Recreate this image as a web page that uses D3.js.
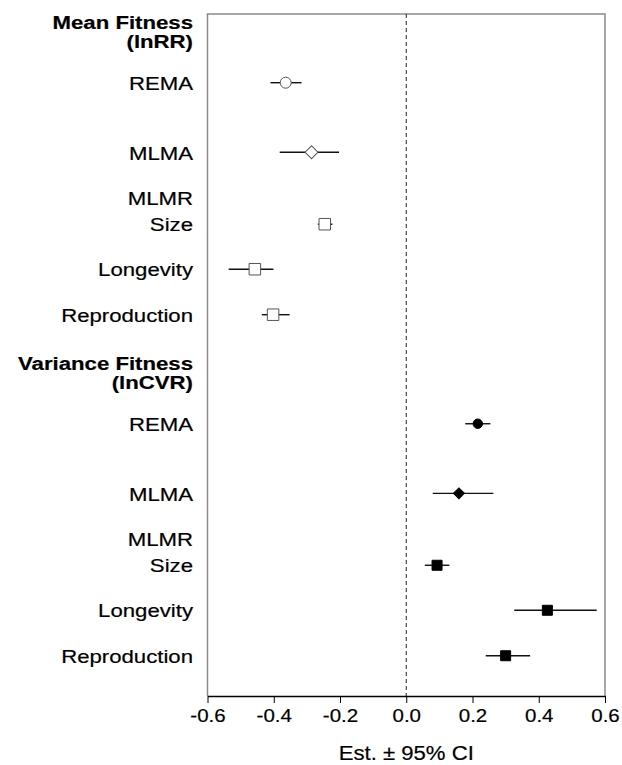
<!DOCTYPE html>
<html>
<head>
    <meta charset="utf-8">
    <title>Forest plot</title>
    <script src="https://cdn.jsdelivr.net/npm/d3@7"></script>
    <style>
        html,
        body {
            margin: 0;
            background-color: #fff;
            font-family: Arial, "Liberation Sans", Helvetica, sans-serif;
        }

        svg text {
            fill: #000;
            stroke: #000;
            stroke-width: 0.2;
        }

        svg .lab {
            font-size: 18.8px;
        }

        svg .lab.head {
            font-weight: bold;
        }
    </style>
</head>
<body>
    <svg></svg>

    <script>
        // ---- data ----
        var groups = ['Mean Fitness (lnRR)', 'Variance Fitness (lnCVR)'];
        var models = ['REMA', 'MLMA', 'Size', 'Longevity', 'Reproduction'];
        var shapes = ['circle', 'diamond', 'square', 'square', 'square'];

        var lnRR_est = [-0.364, -0.286, -0.246, -0.457, -0.402];
        var lnRR_lo  = [-0.410, -0.382, -0.267, -0.536, -0.436];
        var lnRR_hi  = [-0.316, -0.203, -0.223, -0.401, -0.352];

        var lnCVR_est = [0.216, 0.159, 0.093, 0.426, 0.300];
        var lnCVR_lo  = [0.178, 0.080, 0.056, 0.326, 0.240];
        var lnCVR_hi  = [0.254, 0.263, 0.130, 0.575, 0.374];

        var xTicks = [-0.6, -0.4, -0.2, 0.0, 0.2, 0.4, 0.6];

        (function () {
            var w = 622,
                h = 765,
                left = 207.5,
                right = 605,
                top = 14,
                bottom = 696,
                labX = 193,
                sx = 1.18;   // the original text is a little wide

            var svg = d3.select('svg')
                    .attr('width', w)
                    .attr('height', h)
                    .attr('viewBox', '0 0 ' + w + ' ' + h);

            var x = d3.scaleLinear().domain([-0.6, 0.6]).range([left, right]);

            // row slots: MLMA sits a half row lower, MLMR rows follow
            var slotOf = [0, 1.5, 3.05, 4.02, 5],
                groupStart = [0, 7.35];
            var y = d3.scaleLinear().domain([0, 1]).range([82.7, 129.1]);

            var series = [
                { head: groups[0], est: lnRR_est, lo: lnRR_lo, hi: lnRR_hi, filled: false },
                { head: groups[1], est: lnCVR_est, lo: lnCVR_lo, hi: lnCVR_hi, filled: true }
            ];

            // box: gray frame on three sides
            svg.append('path')
                .attr('d', 'M' + left + ',' + bottom + 'V' + top + 'H' + right + 'V' + bottom)
                .style('fill', 'none')
                .style('stroke', '#8a8a8a')
                .style('stroke-width', 1.5);

            // zero line
            svg.append('line')
                .attr('x1', x(0)).attr('x2', x(0))
                .attr('y1', top).attr('y2', bottom)
                .style('stroke', '#222')
                .style('stroke-width', 1)
                .style('stroke-dasharray', '4,3');

            // x axis, plain hyphen for minus like the original
            var fmt = function (d) { return d3.format('.1f')(d).replace('\u2212', '-'); };
            var ax = svg.append('g')
                .attr('transform', 'translate(0,' + bottom + ')')
                .call(d3.axisBottom(x).tickValues(xTicks).tickFormat(fmt)
                    .tickSize(7).tickPadding(6).tickSizeOuter(0));
            ax.select('.domain').style('stroke', '#000').style('stroke-width', 1.5);
            ax.selectAll('.tick line').style('stroke', '#000').style('stroke-width', 1);
            ax.selectAll('.tick text')
                .attr('transform', 'scale(1.08,1)')
                .style('font-family', 'Arial, "Liberation Sans", sans-serif')
                .style('font-size', '19px');

            svg.append('g')
                .attr('transform', 'translate(' + x(0) + ',760)scale(1.08,1)')
                .append('text')
                .attr('text-anchor', 'middle')
                .style('font-size', '20.5px')
                .text('Est. \u00b1 95% CI');

            function label(txt, yy, bold) {
                svg.append('g')
                    .attr('transform', 'translate(' + labX + ',' + yy + ')scale(' + sx + ',1)')
                    .append('text')
                    .attr('class', bold ? 'lab head' : 'lab')
                    .attr('text-anchor', 'end')
                    .text(txt);
            }

            var sym = {
                circle: function (f) { return d3.symbol(d3.symbolCircle, f ? 70 : 95)(); },
                square: function (f) { return d3.symbol(d3.symbolSquare, f ? 100 : 132)(); },
                diamond: function (f) { return d3.symbol(d3.symbolSquare, f ? 60 : 84)(); }
            };

            series.forEach(function (s, gi) {
                var base = groupStart[gi];
                var y0 = y(base);

                // group heading, two lines
                var parts = s.head.split(' (');
                label(parts[0], y0 - 53.7, true);
                label('(' + parts[1], y0 - 34.5, true);

                models.forEach(function (m, i) {
                    var yy = y(base + slotOf[i]);

                    if (m === 'Size') label('MLMR', yy - 19.7, false);
                    label(m, yy + 7.2, false);

                    svg.append('line')
                        .attr('x1', x(s.lo[i])).attr('x2', x(s.hi[i]))
                        .attr('y1', yy).attr('y2', yy)
                        .style('stroke', '#111')
                        .style('stroke-width', 1.4);

                    var tr = 'translate(' + x(s.est[i]) + ',' + yy + ')';
                    if (shapes[i] === 'diamond') tr += 'rotate(45)';

                    svg.append('path')
                        .attr('d', sym[shapes[i]](s.filled))
                        .attr('transform', tr)
                        .style('fill', s.filled ? '#000' : '#fff')
                        .style('stroke', s.filled ? '#000' : '#555')
                        .style('stroke-width', 1);
                });
            });
        })();
    </script>
</body>
</html>
